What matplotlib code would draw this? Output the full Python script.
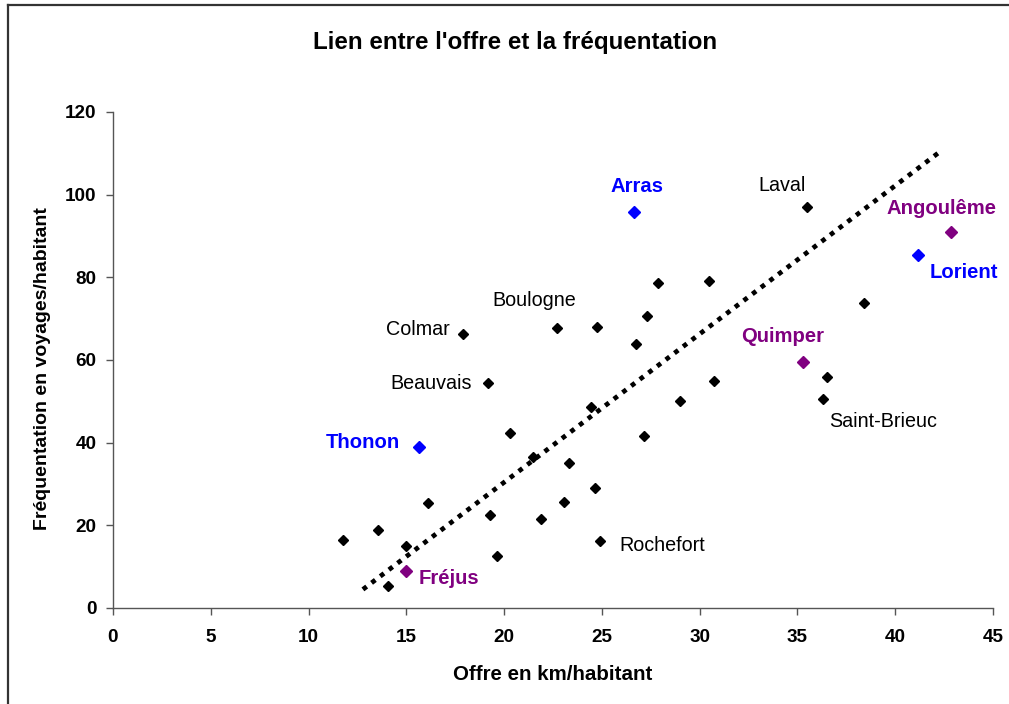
import matplotlib
matplotlib.use("Agg")
import matplotlib.pyplot as plt
from matplotlib.lines import Line2D

plt.rcParams['font.family'] = ['Liberation Sans', 'DejaVu Sans']

# Data: offre (km/habitant) vs fréquentation (voyages/habitant)
black_x = [11.76, 13.55, 14.06, 14.98, 16.1, 17.88, 19.18, 19.3, 19.66, 20.3,
           21.5, 21.88, 22.68, 23.06, 23.31, 24.43, 24.66, 24.75, 24.92, 26.74,
           27.13, 27.3, 27.85, 28.97, 30.47, 30.74, 35.51, 36.5, 36.31, 38.38]
black_y = [16.4, 18.9, 5.3, 15.1, 25.3, 66.2, 54.4, 22.5, 12.5, 42.3,
           36.5, 21.6, 67.7, 25.7, 35.2, 48.7, 29.1, 68.1, 16.2, 63.9,
           41.5, 70.6, 78.6, 50.0, 79.0, 54.9, 96.9, 56.0, 50.6, 73.7]
blue_x = [26.65, 15.66, 41.17]
blue_y = [95.9, 38.9, 85.3]
blue_labels = ["Arras", "Thonon", "Lorient"]
purple_x = [15.0, 35.28, 42.85]
purple_y = [8.9, 59.4, 91.0]
purple_labels = ["Fréjus", "Quimper", "Angoulême"]
black_labels = {5: "Colmar", 6: "Beauvais", 12: "Boulogne", 18: "Rochefort",
                26: "Laval", 28: "Saint-Brieuc"}
trend_x = [12.78, 42.4]
trend_y = [4.5, 110.8]
x_ticks = [0, 5, 10, 15, 20, 25, 30, 35, 40, 45]
y_ticks = [0, 20, 40, 60, 80, 100, 120]

W, H = 1009, 704
fig = plt.figure(figsize=(W / 100, H / 100), dpi=100)
ax = fig.add_axes([113 / W, 1 - 608 / H, (993 - 113) / W, (608 - 112) / H])

ax.plot(trend_x, trend_y, linestyle=(0, (1, 1.3)), color='black', lw=3.4,
        solid_capstyle='butt', zorder=2)
ax.plot(black_x, black_y, 'D', color='black', ms=5.2, mec='black', zorder=3, clip_on=False)
ax.plot(blue_x, blue_y, 'D', color='#0000FF', ms=6.6, mec='#0000FF', zorder=3, clip_on=False)
ax.plot(purple_x, purple_y, 'D', color='#800080', ms=6.6, mec='#800080', zorder=3, clip_on=False)

ax.set_xlim(0, 45)
ax.set_ylim(0, 120)
ax.set_xticks(x_ticks)
ax.set_yticks(y_ticks)
for s in ['top', 'right']:
    ax.spines[s].set_visible(False)
for s in ['left', 'bottom']:
    ax.spines[s].set_color('#555555')
    ax.spines[s].set_linewidth(1.0)
ax.tick_params(axis='both', direction='out', length=5, width=1, color='#555555',
               labelsize=13.6)
for lab in ax.get_xticklabels() + ax.get_yticklabels():
    lab.set_fontweight('bold')
ax.tick_params(axis='x', pad=10)
ax.tick_params(axis='y', pad=7)

ax.set_xlabel("Offre en km/habitant", fontsize=14.8, fontweight='bold', va='center')
ax.set_ylabel("Fréquentation en voyages/habitant", fontsize=14.0, fontweight='bold', va='center')
ax.xaxis.set_label_coords(0.5, (608 - 674) / 496)
ax.yaxis.set_label_coords((43 - 113) / 880, (608 - 369) / 496)

fig.text(515 / W, 1 - 43 / H, "Lien entre l'offre et la fréquentation",
         ha='center', va='center', fontsize=17.4, fontweight='bold')

# Annotations (offsets in points)
def ann(x, y, text, dx, dy, color, bold, ha):
    ax.annotate(text, (x, y), xytext=(dx, dy), textcoords='offset points',
                ha=ha, va='center', color=color,
                fontsize=14.6 if bold else 14.2,
                fontweight='bold' if bold else 'normal')

black_off = {5: (-9, 3.6, 'right'), 6: (-11.5, 0, 'right'), 12: (-16, 20, 'center'),
             18: (13.7, -3, 'left'), 26: (-18.5, 15.6, 'center'), 28: (4.3, -16, 'left')}
for i, t in black_labels.items():
    dx, dy, ha = black_off[i]
    ann(black_x[i], black_y[i], t, dx, dy, 'black', False, ha)

blue_off = [(2, 18, 'center'), (-13.7, 3.6, 'right'), (8.6, -12, 'left')]
for x, y, t, (dx, dy, ha) in zip(blue_x, blue_y, blue_labels, blue_off):
    ann(x, y, t, dx, dy, '#0000FF', True, ha)
purple_off = [(8.9, -5.5, 'left'), (-14.4, 18.5, 'center'), (-7, 16.5, 'center')]
for x, y, t, (dx, dy, ha) in zip(purple_x, purple_y, purple_labels, purple_off):
    ann(x, y, t, dx, dy, '#800080', True, ha)

# Outer chart border (left and top visible)
fig.add_artist(Line2D([8 / W, 8 / W], [0, 1 - 5 / H], transform=fig.transFigure,
                      color='#333333', lw=1.6))
fig.add_artist(Line2D([8 / W, 1], [1 - 5 / H, 1 - 5 / H], transform=fig.transFigure,
                      color='#333333', lw=1.6))

fig.savefig("out.png", dpi=100)
